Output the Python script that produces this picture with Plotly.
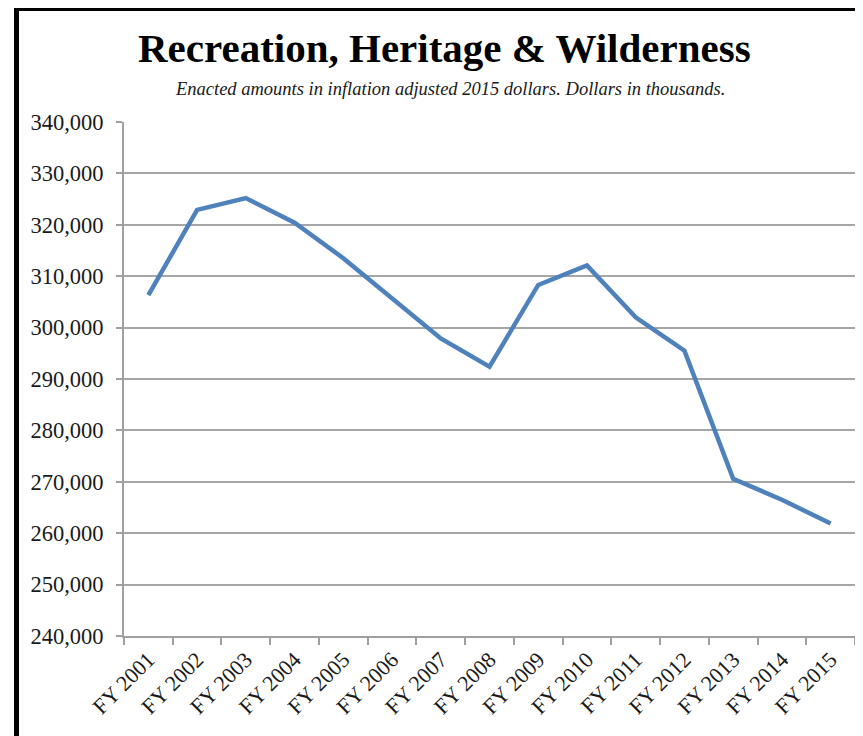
import plotly.graph_objects as go

# data (dollars in thousands)
years = ["FY 2001", "FY 2002", "FY 2003", "FY 2004", "FY 2005", "FY 2006", "FY 2007", "FY 2008",
         "FY 2009", "FY 2010", "FY 2011", "FY 2012", "FY 2013", "FY 2014", "FY 2015"]
amounts = [306300, 322900, 325200, 320400, 313500, 305800, 297900, 292400,
           308300, 312100, 302000, 295500, 270600, 266500, 261900]
y_ticks = [240000, 250000, 260000, 270000, 280000, 290000, 300000, 310000, 320000, 330000, 340000]

# the page body adds an 8px margin, so the figure is drawn 8px smaller and shifted
OFF = 8
W, H = 863 - OFF, 736 - OFF
L, R, T, B = 124 - OFF, 8, 122 - OFF, 100
pw, ph = W - L - R, H - T - B


def px_x(x):
  # page pixel -> paper coordinate
  return (x - OFF - L) / pw


def px_y(y):
  return (H - B - (y - OFF)) / ph


fig = go.Figure()
fig.add_trace(go.Scatter(x=years, y=amounts, mode="lines",
                         line=dict(color="#4f81bd", width=4.5), hoverinfo="x+y"))

fig.update_layout(
  width=W, height=H,
  margin=dict(l=L, r=R, t=T, b=B),
  paper_bgcolor="white", plot_bgcolor="white",
  showlegend=False,
  font=dict(family="Liberation Serif, Times New Roman, serif", color="#1a1a1a"),
)

fig.update_xaxes(
  type="category", tickangle=-45, tickfont=dict(size=22, color="#1a1a1a"),
  showgrid=False, showline=True, linecolor="#a0a0a0", linewidth=2,
  ticks="outside", ticklen=7, tickcolor="#a0a0a0", tickwidth=2,
  tickson="boundaries", range=[-0.5, len(years) - 0.5],
)
fig.update_yaxes(
  range=[240000, 340000], tickvals=y_ticks, tickformat=",d",
  tickfont=dict(size=22.5, color="#1a1a1a"), ticklabelstandoff=8,
  showgrid=True, gridcolor="#a6a6a6", gridwidth=2,
  showline=True, linecolor="#a0a0a0", linewidth=2,
  ticks="outside", ticklen=6, tickcolor="#a0a0a0", tickwidth=2,
  zeroline=False,
)

# title and subtitle
fig.add_annotation(text="<b>Recreation, Heritage &amp; Wilderness</b>", xref="paper", yref="paper",
                   x=px_x(444), y=px_y(48), xanchor="center", yanchor="middle", showarrow=False,
                   font=dict(size=41, color="black", family="Liberation Serif, Times New Roman, serif"))
fig.add_annotation(text="<i>Enacted amounts in inflation adjusted 2015 dollars. Dollars in thousands.</i>",
                   xref="paper", yref="paper", x=px_x(450), y=px_y(89), xanchor="center", yanchor="middle",
                   showarrow=False,
                   font=dict(size=18.5, color="#1a1a1a", family="Liberation Serif, Times New Roman, serif"))

# frame: thick black border on the left and top
fig.add_shape(type="line", xref="paper", yref="paper", x0=px_x(16.5), x1=px_x(16.5),
              y0=px_y(6), y1=px_y(745), line=dict(color="black", width=5))
fig.add_shape(type="line", xref="paper", yref="paper", x0=px_x(14), x1=px_x(870),
              y0=px_y(8.5), y1=px_y(8.5), line=dict(color="black", width=5))

fig.write_html("out.html")
